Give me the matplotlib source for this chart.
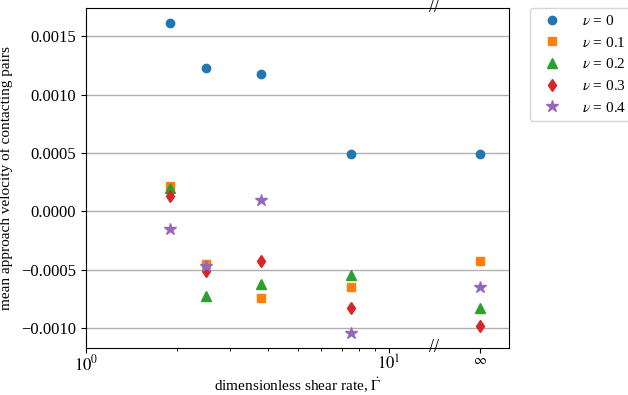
import numpy as np
import matplotlib
matplotlib.use('Agg')
import matplotlib.pyplot as plt
import matplotlib.transforms as mtransforms

plt.rcParams['font.family'] = ['Liberation Serif', 'DejaVu Serif']
plt.rcParams['mathtext.fontset'] = 'stix'
plt.rcParams['font.size'] = 12

# shear rates (the last one stands for infinity, drawn at 20)
rates = [1.89, 2.5, 3.78, 7.5, 20.0]
nu_labels = ['0', '0.1', '0.2', '0.3', '0.4']

v_nu0 = [0.00161, 0.001225, 0.001174, 0.000488, 0.000488]
v_nu1 = [0.000214, -0.000454, -0.000745, -0.000651, -0.000428]
v_nu2 = [0.000197, -0.000728, -0.000617, -0.000548, -0.000823]
v_nu3 = [0.000129, -0.000506, -0.000428, -0.000823, -0.000977]
v_nu4 = [-0.000146, -0.000463, 0.0000943, -0.001037, -0.000651]

series = [v_nu0, v_nu1, v_nu2, v_nu3, v_nu4]
markers = ['o', 's', '^', 'd', '*']
sizes = [6, 6, 7, 6, 9]

xticks_major = [1, 10, 20]
xtick_labels = [r'$10^0$', r'$10^1$', r'$\infty$']
xticks_minor = [2, 3, 4, 5, 6, 7, 8, 9]
break_at = np.sqrt(10 * 20)

fig = plt.figure(figsize=(6.28, 3.95), dpi=100)
ax = fig.add_axes([86 / 628, 47 / 395, 423 / 628, 340 / 395])

for vals, nu, m, s in zip(series, nu_labels, markers, sizes):
    ax.plot(rates, vals, linestyle='none', marker=m, markersize=s,
            label=r'$\nu$ = ' + nu)

ax.set_xscale('log')
ax.set_xlim(1, 25)
ax.set_xticks(xticks_major)
ax.set_xticklabels(xtick_labels)
ax.get_xticklabels()[-1].set_fontsize(10)
ax.set_xticks(xticks_minor, minor=True)
ax.set_xticklabels([], minor=True)
ax.tick_params(axis='x', which='major', pad=1)
ax.yaxis.grid(True, color='#b0b0b0', linewidth=1)
ax.set_axisbelow(True)

ax.set_xlabel(r'dimensionless shear rate, $\dot{\mathit{\Gamma}}$', fontsize=11, labelpad=1)
ax.set_ylabel('mean approach velocity of contacting pairs', fontsize=11, labelpad=6)

# axis break marks
trans = mtransforms.blended_transform_factory(ax.transData, ax.transAxes)
for yy in [0, 1]:
    ax.text(break_at, yy, '//', transform=trans, ha='center', va='center',
            fontsize=13, clip_on=False)

ax.legend(loc='upper left', bbox_to_anchor=(1.05, 1.0), borderaxespad=0,
          numpoints=1, fontsize=11, handletextpad=1.0)

fig.savefig('out.png', dpi=100)
